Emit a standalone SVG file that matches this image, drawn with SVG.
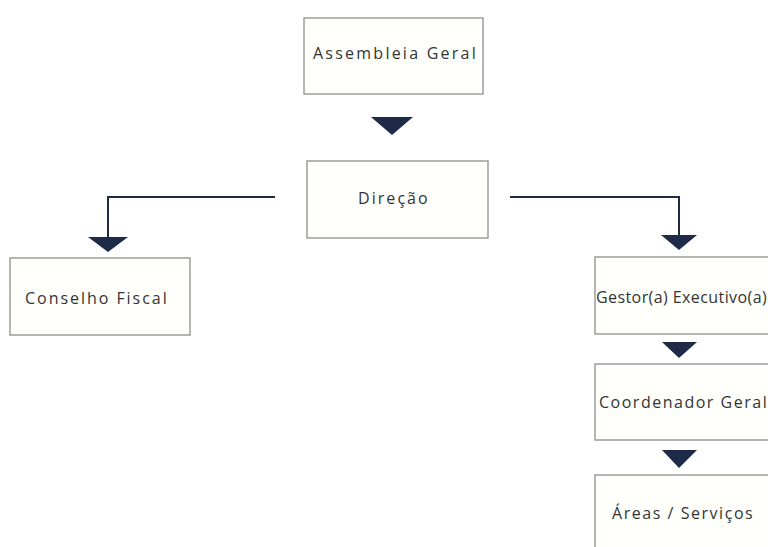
<svg xmlns="http://www.w3.org/2000/svg" width="768" height="547" viewBox="0 0 768 547">
<style>
.box{fill:#fffffb;stroke:#8e8e8e;stroke-width:1.3}
.lbl{font-family:"Open Sans","Noto Sans","DejaVu Sans",sans-serif;font-size:16px;fill:#333336;letter-spacing:0.3px}
.ln{fill:none;stroke:#1f2a44;stroke-width:2}
.tri{fill:#1d2a48}
</style>
<rect width="768" height="547" fill="#ffffff"/>
<g id="assembleia">
<rect class="box" x="304" y="18" width="179" height="76"/>
<text class="lbl" x="313" y="59" textLength="163" lengthAdjust="spacing">Assembleia Geral</text>
</g>
<g id="direcao">
<rect class="box" x="307" y="161" width="181" height="77"/>
<text class="lbl" x="358" y="204" textLength="70" lengthAdjust="spacing">Direção</text>
</g>
<g id="conselho">
<rect class="box" x="10" y="258" width="180" height="77"/>
<text class="lbl" x="25" y="304" textLength="142" lengthAdjust="spacing">Conselho Fiscal</text>
</g>
<g id="gestor">
<rect class="box" x="595" y="257" width="200" height="77"/>
<text class="lbl" x="596" y="303" textLength="171" lengthAdjust="spacing">Gestor(a) Executivo(a)</text>
</g>
<g id="coordenador">
<rect class="box" x="595" y="364" width="200" height="76"/>
<text class="lbl" x="599" y="408" textLength="168" lengthAdjust="spacing">Coordenador Geral</text>
</g>
<g id="areas">
<rect class="box" x="595" y="475" width="200" height="90"/>
<text class="lbl" x="612" y="519" textLength="141" lengthAdjust="spacing">Áreas / Serviços</text>
</g>
<g id="connectors">
<polygon class="tri" points="371,117 413,117 392,135"/>
<polyline class="ln" points="275,197 108,197 108,238"/>
<polygon class="tri" points="88,237 128,237 108,252"/>
<polyline class="ln" points="510,197 679,197 679,236"/>
<polygon class="tri" points="661,235 697,235 679,250"/>
<polygon class="tri" points="662,342 697,342 679,358"/>
<polygon class="tri" points="662,450 697,450 679,468"/>
</g>
</svg>
